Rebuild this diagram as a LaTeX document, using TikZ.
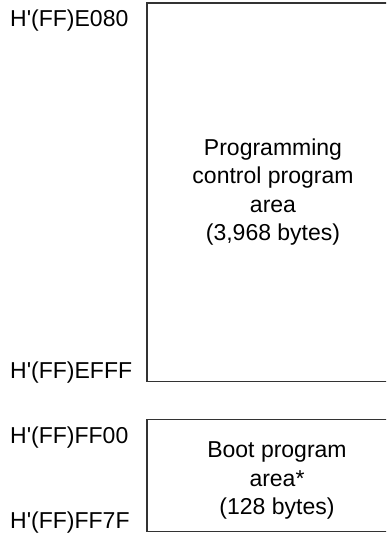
\documentclass[tikz,border=0pt]{standalone}
\usepackage{fontspec}
\setmainfont{Liberation Sans}
\definecolor{rahmen}{HTML}{333333}
\tikzset{
  adr/.style={anchor=base west,inner sep=0pt,font=\fontsize{23}{28}\selectfont},
  bereich/.style={draw=rahmen,line width=1.1pt},
  inhalt/.style={align=center,inner sep=0pt,font=\fontsize{23}{28.3}\selectfont},
}
\newcommand{\hq}{H\textquotesingle}
\begin{document}
\begin{tikzpicture}[x=1pt,y=-1pt]
  \useasboundingbox (0,0) rectangle (386,533);
  \clip (0,0) rectangle (386,533);
  % ===== Speicherbereiche =====
  \draw[bereich] (147,3) rectangle (400,381.5);
  \draw[bereich] (147,419.5) rectangle (400,531.5);
  \node[inhalt] (prog) at (273,192) {Programming\\control program\\area\\(3,968 bytes)};
  \node[inhalt] (boot) at (277,480.5) {Boot program\\area*\\(128 bytes)};
  % ===== Adressen =====
  \node[adr] (a1) at (10,26.7) {\hq(FF)E080};
  \node[adr] (a2) at (10,378) {\hq(FF)EFFF};
  \node[adr] (a3) at (10,443) {\hq(FF)FF00};
  \node[adr] (a4) at (10,528) {\hq(FF)FF7F};
\end{tikzpicture}
\end{document}
